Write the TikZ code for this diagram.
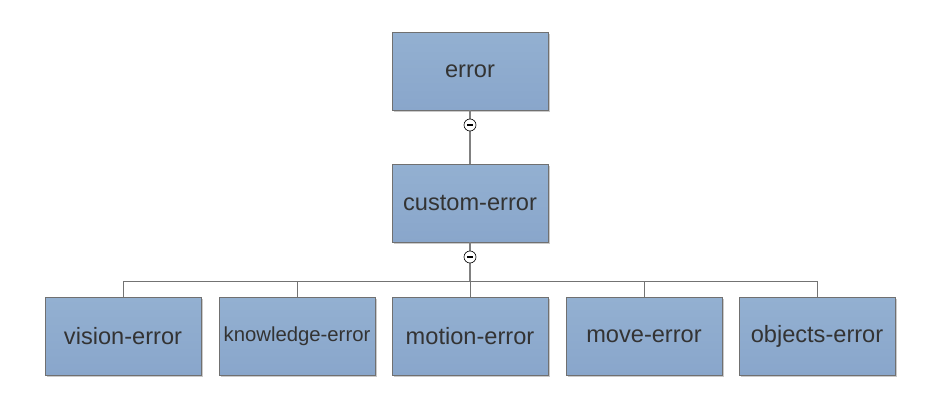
\documentclass[tikz,border=0pt]{standalone}
\usepackage{fontspec}
\setmainfont{Liberation Sans}
\usetikzlibrary{shadows}

\definecolor{boxtop}{HTML}{93B0D1}
\definecolor{boxbot}{HTML}{89A6CB}
\definecolor{boxline}{HTML}{707070}
\definecolor{txt}{HTML}{333333}
\definecolor{conngray}{HTML}{808080}

\tikzset{
  errbox/.style={draw=boxline, line width=0.8pt, top color=boxtop, bottom color=boxbot,
    minimum width=156pt, minimum height=78pt, inner sep=0pt, text=txt,
    font=\fontsize{23.6}{28}\selectfont,
    drop shadow={shadow xshift=1.5pt, shadow yshift=-1.5pt, opacity=0.35, fill=black!60}},
  conn/.style={draw=conngray, line width=1.2pt},
  thinconn/.style={draw=conngray!90!black, line width=0.8pt},
  minus/.style={circle, draw=black, fill=white, line width=0.6pt, minimum size=12pt, inner sep=0pt,
    path picture={\draw[line width=1.1pt] ([xshift=-3pt]path picture bounding box.center) -- ([xshift=3pt]path picture bounding box.center);}},
}

\begin{document}
\begin{tikzpicture}[x=1pt,y=-1pt]
        \useasboundingbox (0,0) rectangle (946,415);
        % Boxes
        \node[errbox] (error) at (470,71) {error};
        \node[errbox] (custom) at (470,203) {custom-error};
        \node[errbox] (vision) at (123,336.5) {vision-error};
        \node[errbox, font=\fontsize{20.3}{24}\selectfont] (knowledge) at (297,336.5) {knowledge-error};
        \node[errbox] (motion) at (470,336.5) {motion-error};
        \node[errbox] (move) at (644,336.5) {move-error};
        \node[errbox] (objects) at (817,336.5) {objects-error};
        % Connectors
        \coordinate (bus) at (470,281);
        \foreach \n in {vision,knowledge,motion,move,objects} {
          \draw[thinconn] (\n.north) |- (bus);
        }
        \draw[conn] (error.south) -- (custom.north);
        \draw[conn] (custom.south) -- (bus);
        % Collapse marks
        \node[minus] (fold1) at (470,125) {};
        \node[minus] (fold2) at (470,257) {};
\end{tikzpicture}
\end{document}
